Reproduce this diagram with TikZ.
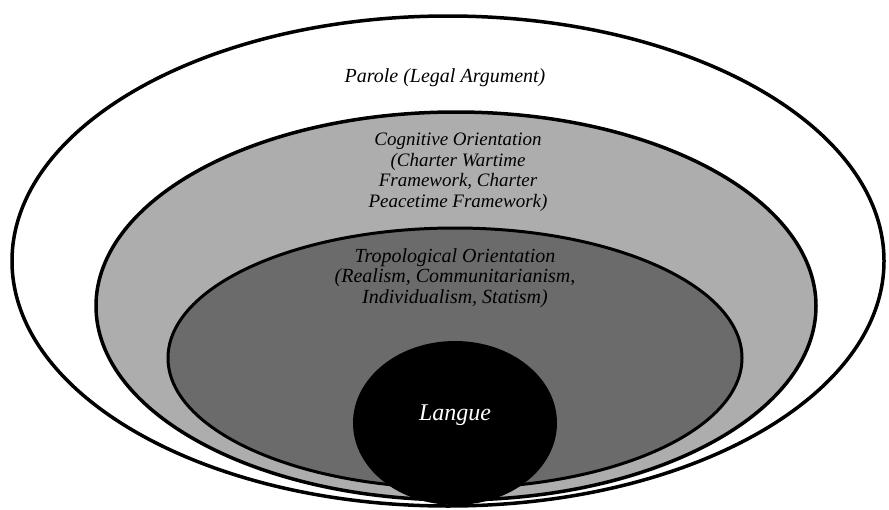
\documentclass[tikz,border=0pt]{standalone}
\usepackage{fontspec}
\setmainfont{Liberation Serif}
\definecolor{cogfill}{gray}{0.68}
\definecolor{tropfill}{gray}{0.42}
\tikzset{
  ring/.style={draw=black, line width=3.5pt},
  lbl/.style={font=\itshape\fontsize{20}{20.5}\selectfont, align=center, inner sep=0pt, anchor=base},
  lblsmall/.style={font=\itshape\fontsize{19}{20.5}\selectfont, align=center, inner sep=0pt, anchor=base}
}
\begin{document}
\begin{tikzpicture}[x=1pt,y=-1pt]
\useasboundingbox (0,0) rectangle (889,509);
% outer: parole
\filldraw[ring, fill=white] (448,261) ellipse [x radius=436, y radius=245];
% cognitive
\filldraw[ring, fill=cogfill] (456,306) ellipse [x radius=360, y radius=194];
% tropological
\filldraw[ring, line width=3pt, fill=tropfill] (455,358) ellipse [x radius=287, y radius=130];
% langue
\fill[black] (455,423) ellipse [x radius=102, y radius=82];
% labels (anchor=base is the baseline of the last line)
\node[lbl] (parole) at (445,82) {Parole (Legal Argument)};
\node[lblsmall] (cog) at (458,207) {Cognitive Orientation\\(Charter Wartime\\Framework, Charter\\Peacetime Framework)};
\node[lbl] (trop) at (455,303) {Tropological Orientation\\(Realism, Communitarianism,\\Individualism, Statism)};
\node[lbl, text=white, font=\itshape\fontsize{24}{26}\selectfont] (langue) at (455,420) {Langue};
\end{tikzpicture}
\end{document}
